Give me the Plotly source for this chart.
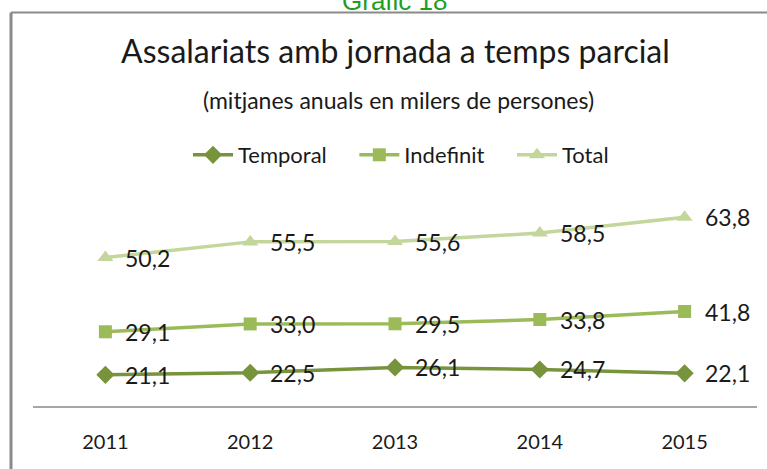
import numpy as np
import plotly.graph_objects as go

years = [2011, 2012, 2013, 2014, 2015]
temporal = [21.1, 22.5, 26.1, 24.7, 22.1]
indefinit = [29.1, 33.0, 29.5, 33.8, 41.8]
total = [50.2, 55.5, 55.6, 58.5, 63.8]
series_names = ["Temporal", "Indefinit", "Total"]
series_values = [temporal, indefinit, total]
colors = ["#77933C", "#9BBB59", "#C3D69B"]
symbols = ["diamond", "square", "triangle-up"]
sizes = [14, 13, 14]

W, H = 767, 469
FONT = "Lato"

fig = go.Figure()
for k, (name, vals, col, sym, sz) in enumerate(zip(series_names, series_values, colors, symbols, sizes)):
    pad = "\u00a0" * 4 if k < 2 else ""
    fig.add_trace(go.Scatter(
        x=years, y=vals, name=name + pad, mode="lines+markers",
        stackgroup="one", fill="none",
        line=dict(color=col, width=3.5),
        marker=dict(symbol=sym, size=sz, color=col),
        hoverinfo="skip",
    ))

# data labels placed at stacked positions
cum = np.cumsum(np.array(series_values), axis=0)
annotations = []
for i, vals in enumerate(series_values):
    for x, v, yc in zip(years, vals, cum[i]):
        annotations.append(dict(
            x=x, y=yc, xref="x", yref="y", text=f"{v:.1f}".replace(".", ","),
            showarrow=False, xanchor="left", yanchor="middle", xshift=18,
            font=dict(family=FONT, size=23, color="#1a1a1a"),
        ))

annotations.append(dict(
    x=395 / W, y=(H - 18) / H, xref="paper", yref="paper", text="Gràfic 18",
    showarrow=False, xanchor="center", yanchor="bottom",
    font=dict(family="Liberation Sans", size=26, color="#1E9E1E")))
annotations.append(dict(
    x=395 / W, y=(H - 50) / H, xref="paper", yref="paper",
    text="Assalariats amb jornada a temps parcial",
    showarrow=False, xanchor="center", yanchor="middle",
    font=dict(family=FONT, size=32, color="#1a1a1a")))
annotations.append(dict(
    x=398 / W, y=(H - 100) / H, xref="paper", yref="paper",
    text="(mitjanes anuals en milers de persones)",
    showarrow=False, xanchor="center", yanchor="middle",
    font=dict(family=FONT, size=23, color="#1a1a1a")))

shapes = [
    dict(type="line", xref="paper", yref="paper", x0=11 / W, x1=1.01,
         y0=(H - 12.5) / H, y1=(H - 12.5) / H, line=dict(color="#8A8A8A", width=2)),
    dict(type="line", xref="paper", yref="paper", x0=11 / W, x1=11 / W,
         y0=-0.01, y1=(H - 12.5) / H, line=dict(color="#8A8A8A", width=3)),
]

fig.update_layout(
    width=W, height=H,
    margin=dict(l=0, r=0, t=0, b=0),
    paper_bgcolor="white", plot_bgcolor="white",
    showlegend=True,
    legend=dict(orientation="h", x=401 / W, xanchor="center",
                y=(H - 155) / H, yanchor="middle",
                font=dict(family=FONT, size=22, color="#1a1a1a"),
                itemwidth=40, traceorder="normal", tracegroupgap=0),
    xaxis=dict(domain=[33 / W, 757 / W], range=[2010.5, 2015.5],
               tickvals=years, ticktext=[str(y) for y in years],
               showline=True, linecolor="#A6A6A6", linewidth=1.5,
               showgrid=False, zeroline=False, ticks="",
               tickfont=dict(family=FONT, size=20, color="#1a1a1a"),
               ticklabelstandoff=17),
    yaxis=dict(domain=[63 / H, 270 / H], range=[0, 140], visible=False,
               showgrid=False, zeroline=False),
    annotations=annotations,
    shapes=shapes,
)

fig.write_html("out.html", config={"displayModeBar": False},
               post_script="document.body.style.margin='0px';")
